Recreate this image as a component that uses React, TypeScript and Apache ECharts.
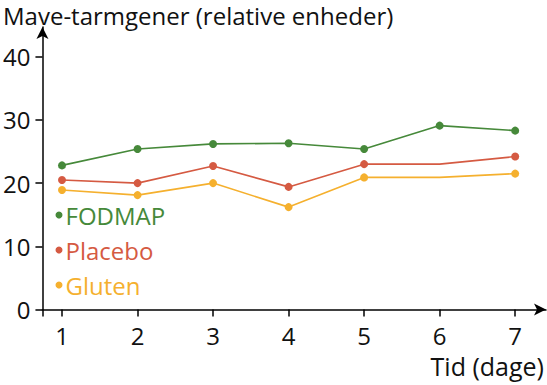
import React, { useEffect, useRef } from "react";
import * as echarts from "echarts";

const days = [1, 2, 3, 4, 5, 6, 7];
const fodmap = [22.8, 25.4, 26.2, 26.3, 25.4, 29.1, 28.3];
const placebo = [20.5, 20.0, 22.7, 19.4, 23.0, 23.0, 24.2];
const gluten = [18.9, 18.1, 20.0, 16.2, 20.9, 20.9, 21.5];
const unmarkedDay = 6; // placebo & gluten have no marker on day 6
const yTicks = [0, 10, 20, 30, 40];

const seriesNames = ["FODMAP", "Placebo", "Gluten"];
const colors = ["#46893a", "#d55a42", "#f5b02e"];
const FONT = "Open Sans";

export default function App() {
  const ref = useRef<HTMLDivElement>(null);
  useEffect(() => {
    if (!ref.current) return;
    const chart = echarts.init(ref.current, null, { renderer: "svg" });
    const mk = (vals: number[], hideDay: number | null) =>
      vals.map((v, i) =>
        days[i] === hideDay
          ? { value: [days[i], v], symbol: "none" }
          : { value: [days[i], v] }
      );
    const all = [mk(fodmap, null), mk(placebo, unmarkedDay), mk(gluten, unmarkedDay)];
    chart.setOption({
      animation: false,
      textStyle: { fontFamily: FONT },
      grid: { left: 39, right: 0, top: 27, bottom: 75.5, containLabel: false },
      title: {
        text: "Mave-tarmgener (relative enheder)",
        left: -2,
        top: 0,
        padding: [3, 5],
        textStyle: { fontFamily: FONT, fontSize: 24, fontWeight: "normal", color: "#111" },
      },
      legend: {
        data: seriesNames.map((n, i) => ({ name: n, textStyle: { color: colors[i] } })),
        orient: "vertical",
        left: 55.5,
        top: 203,
        padding: 0,
        itemGap: 11,
        itemWidth: 7,
        itemHeight: 7,
        icon: "circle",
        textStyle: { fontFamily: FONT, fontSize: 24, lineHeight: 24, padding: [0, 0, 0, -2] },
        selectedMode: false,
      },
      xAxis: {
        type: "value",
        min: 0.741,
        max: 7.408,
        name: "Tid (dage)",
        nameLocation: "end",
        nameGap: 0,
        nameTextStyle: {
          fontFamily: FONT,
          fontSize: 25,
          color: "#111",
          align: "right",
          verticalAlign: "top",
          padding: [44, 2, 0, 0],
        },
        splitLine: { show: false },
        axisLine: {
          lineStyle: { color: "#000", width: 1.5 },
          symbol: ["none", "arrow"],
          symbolSize: [9, 12],
        },
        axisTick: { show: true, length: 7, lineStyle: { color: "#000", width: 1.5 }, customValues: [0.741, ...days] },
        axisLabel: { customValues: days, fontFamily: FONT, fontSize: 24, color: "#111", margin: 14 },
      },
      yAxis: {
        type: "value",
        min: 0,
        max: 44.7,
        splitLine: { show: false },
        axisLine: {
          show: true,
          lineStyle: { color: "#000", width: 1.5 },
          symbol: ["none", "arrow"],
          symbolSize: [9, 12],
        },
        axisTick: { show: true, length: 7, lineStyle: { color: "#000", width: 1.5 }, customValues: yTicks },
        axisLabel: { customValues: yTicks, fontFamily: FONT, fontSize: 24, color: "#111", margin: 12 },
      },
      series: seriesNames.map((name, i) => ({
        name,
        type: "line",
        data: all[i],
        symbol: "circle",
        symbolSize: 8,
        showSymbol: true,
        color: colors[i],
        lineStyle: { width: 1.6, color: colors[i] },
        itemStyle: { color: colors[i] },
      })),
    });
    return () => chart.dispose();
  }, []);
  return <div ref={ref} style={{ width: 547, height: 385, position: "absolute", left: 0, top: 0 }} />;
}
